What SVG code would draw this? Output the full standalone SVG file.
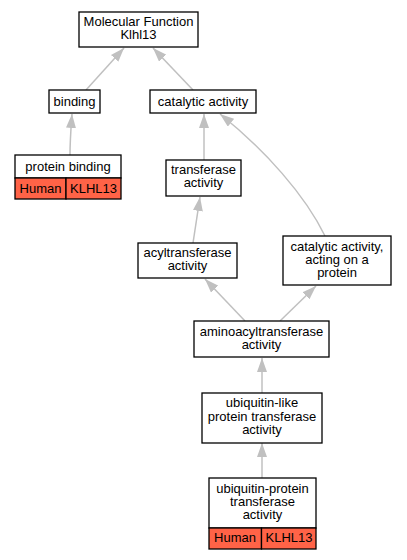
<svg xmlns="http://www.w3.org/2000/svg" width="407" height="560" viewBox="0 0 407 560">
<style>
.box{fill:#fff;stroke:#000;stroke-width:1.3}
.cell{fill:#ff6347;stroke:#000;stroke-width:1.3}
text{font-family:"Liberation Sans",Arial,sans-serif;font-size:13px;fill:#000;text-anchor:middle}
.edge{fill:none;stroke:#c0c0c0;stroke-width:1.5}
</style>
<defs>
<marker id="ah" markerUnits="userSpaceOnUse" markerWidth="14" markerHeight="10" refX="14" refY="5" orient="auto">
<path d="M0,0 L14,5 L0,10 z" fill="#c0c0c0"/>
</marker>
</defs>
<rect width="407" height="560" fill="#fff"/>
<g id="edges">
<path class="edge" marker-end="url(#ah)" d="M86,90 L124,48"/>
<path class="edge" marker-end="url(#ah)" d="M193,90 L153,48"/>
<path class="edge" marker-end="url(#ah)" d="M70,155 C70,140 71,128 72,114"/>
<path class="edge" marker-end="url(#ah)" d="M204,160 L204,114"/>
<path class="edge" marker-end="url(#ah)" d="M325,236 C305,195 265,150 220,114"/>
<path class="edge" marker-end="url(#ah)" d="M193,243 L200,197"/>
<path class="edge" marker-end="url(#ah)" d="M245,321 L205,279"/>
<path class="edge" marker-end="url(#ah)" d="M280,321 L316,286"/>
<path class="edge" marker-end="url(#ah)" d="M262,393 L262,358"/>
<path class="edge" marker-end="url(#ah)" d="M262,478 L262,443"/>
</g>
<g id="mf">
<rect class="box" x="79" y="12" width="119" height="35"/>
<text x="138.5" y="26">Molecular Function</text>
<text x="138.5" y="39">Klhl13</text>
</g>
<g id="binding">
<rect class="box" x="49" y="90" width="51" height="23"/>
<text x="74.5" y="106">binding</text>
</g>
<g id="catalytic">
<rect class="box" x="150" y="90" width="106" height="23"/>
<text x="203" y="106">catalytic activity</text>
</g>
<g id="protein_binding">
<rect class="box" x="15" y="155" width="106" height="23"/>
<text x="68" y="171">protein binding</text>
<rect class="cell" x="15" y="178" width="51" height="21"/>
<rect class="cell" x="66" y="178" width="55" height="21"/>
<text x="40.5" y="193">Human</text>
<text x="93.5" y="193">KLHL13</text>
</g>
<g id="transferase">
<rect class="box" x="166" y="160" width="75" height="36"/>
<text x="203.5" y="174">transferase</text>
<text x="203.5" y="187">activity</text>
</g>
<g id="acyltransferase">
<rect class="box" x="138" y="243" width="99" height="35"/>
<text x="187.5" y="257">acyltransferase</text>
<text x="187.5" y="270">activity</text>
</g>
<g id="acting_protein">
<rect class="box" x="283" y="236" width="108" height="49"/>
<text x="337" y="251">catalytic activity,</text>
<text x="337" y="264">acting on a</text>
<text x="337" y="277">protein</text>
</g>
<g id="aminoacyl">
<rect class="box" x="194" y="321" width="135" height="36"/>
<text x="261.5" y="336">aminoacyltransferase</text>
<text x="261.5" y="349">activity</text>
</g>
<g id="ubl">
<rect class="box" x="202" y="393" width="120" height="50"/>
<text x="262" y="407">ubiquitin-like</text>
<text x="262" y="420.5">protein transferase</text>
<text x="262" y="433.5">activity</text>
</g>
<g id="ubp">
<rect class="box" x="209" y="478" width="107" height="50"/>
<text x="262.5" y="493">ubiquitin-protein</text>
<text x="262.5" y="506">transferase</text>
<text x="262.5" y="518.5">activity</text>
<rect class="cell" x="209" y="528" width="52.5" height="21"/>
<rect class="cell" x="261.5" y="528" width="54.5" height="21"/>
<text x="235" y="542">Human</text>
<text x="289" y="542">KLHL13</text>
</g>
</svg>
